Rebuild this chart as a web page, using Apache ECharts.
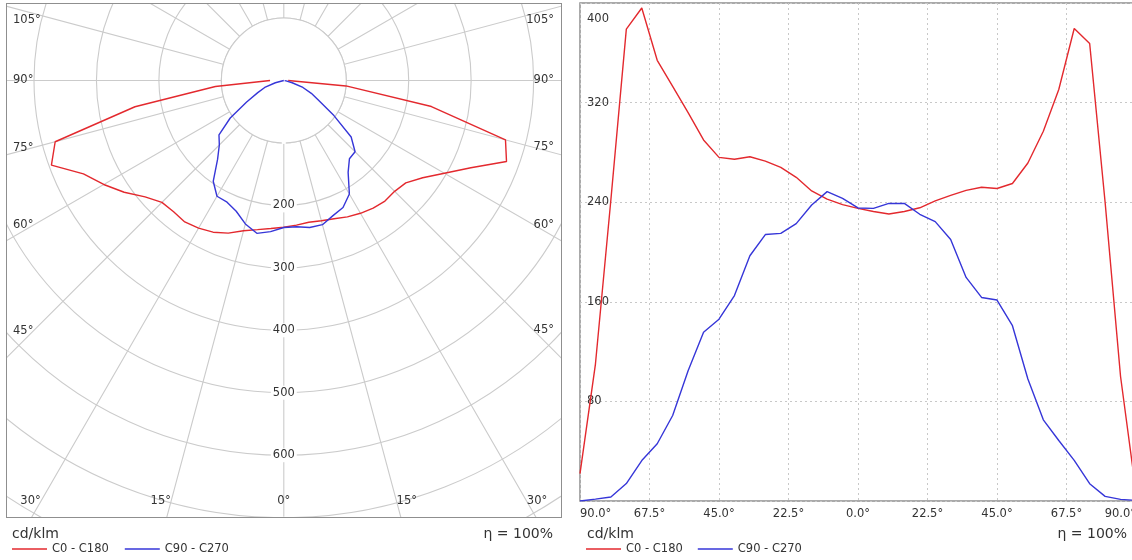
<!DOCTYPE html>
<html><head><meta charset="utf-8">
<script src="https://cdn.jsdelivr.net/npm/echarts@6/dist/echarts.min.js"></script>
<style>
html,body{margin:0;padding:0;background:#fff;width:1132px;height:560px;overflow:hidden;}
#main{position:absolute;left:0;top:0;width:1132px;height:560px;}
#polarBox{position:absolute;left:6px;top:3px;width:556px;height:515px;border:1.5px solid #8f8f8f;box-sizing:border-box;overflow:hidden;background:#fff;}
#polar{position:absolute;left:0;top:0;width:100%;height:100%;}
</style></head><body>
<div id="main"></div>
<div id="polarBox"><div id="polar"></div></div>
<script>
// ---- data (gamma angle in degrees, intensity in cd/klm) ----
const gammaAngles = [-90,-85,-80,-75,-70,-65,-60,-55,-50,-45,-40,-35,-30,-25,-20,-15,-10,-5,0,5,10,15,20,25,30,35,40,45,50,55,60,65,70,75,80,85,90];
const c0c180  = [22,110,242,379,396,354,333,312,290,276,274.5,276.5,273,268,260,249,242.5,238,235,232.5,230.5,232.5,235.5,241,245.5,249.5,252,251,255,271.5,297,330.5,379.5,367.5,240,100,7];
const c90c270 = [0,1.5,3.2,14,32.5,46,68.7,104.7,135.5,146,165,197,214,215,222.8,237.8,248.5,243,235.4,235,239,239,230.3,224.4,210,179.6,163.5,161.4,140.8,98,65.2,48.6,32.6,13.9,3.7,1.3,0.5];
const seriesNames = ['C0 - C180', 'C90 - C270'];
const polarRadiusLabels = [200, 300, 400, 500, 600];
const polarAngleLabels = [0, 15, 30, 45, 60, 75, 90, 105];
const unitText = 'cd/klm';
const etaText = 'η = 100%';

// ---- styles ----
const FONT = '"DejaVu Sans", Verdana, sans-serif';
const TXT = '#333';
const RED = '#e3292e';
const BLUE = '#3636d8';
const GRIDC = '#cbcbcb';

// ---------------- polar chart ----------------
const OX = 7.5, OY = 4.5;          // inner origin of the polar frame on the page
const CX = 284.3 - OX, CY = 81 - OY; // polar centre inside the frame
const PX_PER_UNIT = 0.6245;
const RMAX = 900;

const measure = document.createElement('canvas').getContext('2d');
measure.font = '11.5px ' + FONT;

function angleLabelGraphics() {
  const out = [];
  const XL = 13.5 - OX, XR = 554.5 - OX, YB = 502 - OY, YT = 21 - OY;
  polarAngleLabels.forEach(a => {
    const txt = a + '°';
    const tw = measure.measureText(txt).width;
    const rad = a * Math.PI / 180;
    const mk = (x, y) => out.push({type:'text', x:x, y:y, silent:true, z:50,
      style:{text:txt, fill:TXT, font:'11.5px ' + FONT, align:'left', verticalAlign:'middle'}});
    if (a === 0) { mk(CX - tw / 2, YB); return; }
    [-1, 1].forEach(side => {
      const edgeX = side < 0 ? XL + tw : XR - tw;
      const dx = Math.abs(CX - edgeX);
      let y = CY + dx * Math.cos(rad) / Math.sin(rad);
      let x;
      if (y > YB) {
        y = YB;
        const hit = CX + side * (YB - CY) * Math.tan(rad);
        x = side < 0 ? Math.max(XL, hit - tw) : Math.min(XR - tw, hit);
      } else {
        x = side < 0 ? XL : XR - tw;
      }
      y = Math.max(y, YT);
      mk(x, y);
    });
  });
  return out;
}

const toPolar = vals => gammaAngles.map((g, i) => [vals[i], g < 0 ? g + 360 : g]);

const pc = echarts.init(document.getElementById('polar'));
pc.setOption({
  animation: false,
  polar: { center: [CX, CY], radius: RMAX * PX_PER_UNIT },
  angleAxis: {
    type: 'value', min: 0, max: 360, interval: 15, startAngle: -90, clockwise: false, z: 0,
    axisLine: {show: false}, axisTick: {show: false}, axisLabel: {show: false},
    splitLine: {show: true, lineStyle: {color: GRIDC, width: 1.1}}
  },
  radiusAxis: {
    type: 'value', min: 0, max: RMAX, interval: 100, z: 1,
    axisLine: {show: false}, axisTick: {show: false},
    splitLine: {show: true, lineStyle: {color: GRIDC, width: 1.1}},
    axisLabel: {
      formatter: v => polarRadiusLabels.indexOf(v) >= 0 ? String(v) : '',
      margin: 0, align: 'center', verticalAlign: 'middle',
      backgroundColor: '#fff', padding: [1, 2],
      color: TXT, fontSize: 11.5, fontFamily: FONT
    }
  },
  graphic: angleLabelGraphics(),
  series: [
    { type: 'custom', coordinateSystem: 'polar', z: 1, silent: true, data: [[100, 0]],
      renderItem: (params, api) => {
        const c = api.coord([0, 0]);
        const p = api.coord([api.value(0), 0]);
        const r = Math.hypot(p[0] - c[0], p[1] - c[1]);
        return {type: 'circle', shape: {cx: c[0], cy: c[1], r: r},
                style: {fill: '#fff', stroke: GRIDC, lineWidth: 1.1}};
      } },
    { type: 'line', name: seriesNames[0], coordinateSystem: 'polar', data: toPolar(c0c180),
      symbol: 'none', z: 3, lineStyle: {color: RED, width: 1.4} },
    { type: 'line', name: seriesNames[1], coordinateSystem: 'polar', data: toPolar(c90c270),
      symbol: 'none', z: 3, lineStyle: {color: BLUE, width: 1.4} }
  ]
});

// ---------------- cartesian chart + footers ----------------
const mc = echarts.init(document.getElementById('main'));
const titleStyle = {fontSize: 14, fontWeight: 'normal', color: TXT, fontFamily: FONT};
const legendBase = {
  orient: 'horizontal', top: 543, padding: 0, icon: 'rect', itemWidth: 35, itemHeight: 1.5,
  data: seriesNames, selectedMode: false,
  textStyle: {fontSize: 11.5, color: TXT, fontFamily: FONT}
};
mc.setOption({
  animation: false,
  color: [RED, BLUE],
  title: [
    {text: unitText, left: 12, top: 527, padding: 0, textStyle: titleStyle},
    {text: etaText, right: 1132 - 553, top: 527, padding: 0, textStyle: titleStyle},
    {text: unitText, left: 587, top: 527, padding: 0, textStyle: titleStyle},
    {text: etaText, right: 5, top: 527, padding: 0, textStyle: titleStyle}
  ],
  legend: [
    Object.assign({}, legendBase, {left: 12, itemGap: 16}),
    Object.assign({}, legendBase, {left: 586, itemGap: 15})
  ],
  grid: {left: 580, top: 3, width: 556, height: 498, show: true, borderColor: '#8f8f8f', borderWidth: 1.5,
         containLabel: false, outerBoundsMode: 'none'},
  xAxis: {
    type: 'value', min: -90, max: 90, interval: 22.5,
    axisLine: {show: false}, axisTick: {show: false},
    splitLine: {show: true, lineStyle: {color: '#c8c8c8', width: 1, type: [2, 3]}},
    axisLabel: {formatter: v => Math.abs(v).toFixed(1) + '°', margin: 7, color: TXT, fontSize: 11.5, fontFamily: FONT,
                showMinLabel: true, showMaxLabel: true, alignMinLabel: 'left', alignMaxLabel: 'right', hideOverlap: false}
  },
  yAxis: {
    type: 'value', min: 0, max: 400, interval: 80,
    axisLine: {show: false}, axisTick: {show: false},
    splitLine: {show: true, lineStyle: {color: '#c8c8c8', width: 1, type: [2, 3]}},
    axisLabel: {inside: true, margin: 7, color: TXT, fontSize: 11.5, fontFamily: FONT,
                showMinLabel: true, showMaxLabel: true,
                formatter: v => v === 0 ? '' : (v === 400 ? '{t|' + v + '}' : String(v)),
                rich: {t: {padding: [33, 0, 0, 0], color: TXT, fontSize: 11.5, fontFamily: FONT}}}
  },
  series: [
    {type: 'line', name: seriesNames[0], data: gammaAngles.map((g, i) => [g, c0c180[i]]),
     symbol: 'none', lineStyle: {color: RED, width: 1.4}, itemStyle: {color: RED}},
    {type: 'line', name: seriesNames[1], data: gammaAngles.map((g, i) => [g, c90c270[i]]),
     symbol: 'none', lineStyle: {color: BLUE, width: 1.4}, itemStyle: {color: BLUE}}
  ]
});
</script></body></html>
